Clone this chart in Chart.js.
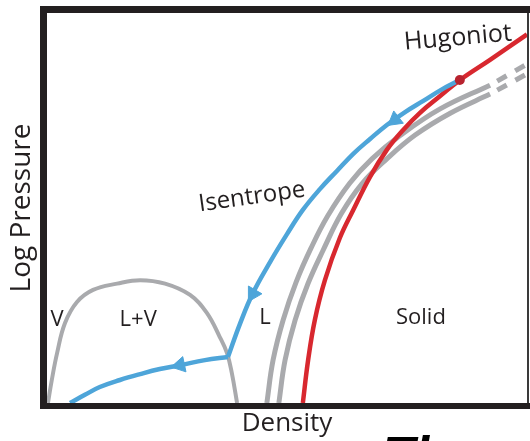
<!DOCTYPE html>
<html>
<head>
<meta charset="utf-8">
<script src="https://cdn.jsdelivr.net/npm/chart.js@4/dist/chart.umd.min.js"></script>
<style>
  html, body { margin: 0; padding: 0; background: #fff; }
</style>
</head>
<body>
<canvas id="phaseChart" width="530" height="441"></canvas>
<script>
// Curves. Density and log pressure both run 0..100 (arbitrary units).
const domeDensity  = [0.2, 1.0, 2.1, 3.75, 6.25, 9.6, 14.6, 19.4, 24.6, 29.8, 33.3, 36.0, 37.5, 38.5, 39.6];
const domePressure = [0, 5.9, 12.8, 20.5, 25.9, 29.0, 30.6, 31.5, 30.6, 27.7, 23.1, 16.9, 12.8, 7.7, 0];

const isentropeHighDensity  = [37.7, 40.2, 42.9, 46.5, 50.0, 53.3, 56.9, 60.4, 63.8, 67.3, 70.8, 74.6, 78.3, 82.1, 86.0];
const isentropeHighPressure = [11.8, 20.3, 28.2, 36.2, 43.3, 49.5, 54.9, 59.5, 63.9, 67.7, 71.3, 74.6, 77.4, 80.3, 82.8];

const isentropeLowDensity  = [4.8, 7.9, 11.0, 15.2, 19.4, 23.5, 27.7, 32.9, 37.7];
const isentropeLowPressure = [0, 2.1, 4.1, 5.9, 7.4, 8.7, 9.7, 11.0, 11.8];

const hugoniotDensity  = [53.3, 54.4, 55.8, 57.9, 61.0, 63.8, 67.3, 70.8, 74.2, 77.7, 81.9, 86.0, 92.3, 100];
const hugoniotPressure = [0, 11.0, 21.3, 31.5, 42.3, 49.5, 58.0, 64.9, 70.0, 74.4, 78.7, 82.8, 88.0, 94.5];

const meltADensity  = [45.8, 47.1, 49.2, 51.9, 55.0, 58.5, 63.1, 67.7, 73.5, 81.9, 92.3];
const meltAPressure = [0, 11.0, 21.3, 31.0, 39.7, 48.0, 56.4, 62.6, 68.5, 75.4, 81.5];

const meltBDensity  = [48.3, 49.6, 51.7, 54.4, 57.5, 61.3, 65.6, 70.8, 76.7, 84.0, 92.3];
const meltBPressure = [0, 11.0, 21.3, 30.7, 39.1, 48.5, 56.2, 62.6, 68.7, 74.3, 79.2];

// dashed continuation of the two grey curves
const meltAExtDensity  = [92.3, 100];
const meltAExtPressure = [81.5, 86.9];
const meltBExtDensity  = [92.3, 100];
const meltBExtPressure = [79.2, 84.4];

// shock state where the isentrope leaves the Hugoniot
const shockDensity  = [86.0];
const shockPressure = [82.8];

// arrow heads along the isentrope (angle = direction of travel, degrees clockwise from up)
const arrowDensity  = [72.5, 42.9, 27.7];
const arrowPressure = [72.6, 28.0, 9.7];
const arrowAngle    = [232, 210, 258];

const BLUE = '#4ea5d9';
const RED = '#d8282f';
const GREY = '#a9aaad';
const INK = '#231f20';

Chart.defaults.font.family = "'Open Sans', sans-serif";

const toPoints = (xs, ys) => xs.map((x, i) => ({ x: x, y: ys[i] }));

const regionLabels = [
    { text: 'V', x: 2.1, y: 21.3, size: 22 },
    { text: 'L+V', x: 19.0, y: 21.3, size: 22 },
    { text: 'L', x: 45.4, y: 21.8, size: 22 },
    { text: 'Solid', x: 77.9, y: 21.8, size: 22 },
    { text: 'Isentrope', x: 42.7, y: 52.8, size: 24, angle: -8 },
    { text: 'Hugoniot', x: 85.6, y: 93.6, size: 25, angle: -5 }
];

const labelPlugin = {
    id: 'regionLabels',
    afterDatasetsDraw(chart) {
        const { ctx, scales } = chart;
        ctx.save();
        ctx.fillStyle = INK;
        ctx.textAlign = 'center';
        ctx.textBaseline = 'middle';
        regionLabels.forEach(l => {
            ctx.save();
            ctx.translate(scales.x.getPixelForValue(l.x), scales.y.getPixelForValue(l.y));
            ctx.rotate((l.angle || 0) * Math.PI / 180);
            ctx.font = l.size + "px 'Open Sans'";
            ctx.fillText(l.text, 0, 0);
            ctx.restore();
        });
        ctx.restore();
    }
};

// heavy frame round the plot, thin on the right
const framePlugin = {
    id: 'frame',
    afterDraw(chart) {
        const { ctx, chartArea: a } = chart;
        ctx.save();
        ctx.fillStyle = INK;
        ctx.fillRect(a.left - 7, a.top - 7, 7, a.bottom - a.top + 13);
        ctx.fillRect(a.left - 7, a.top - 7, a.right - a.left + 10, 7);
        ctx.fillRect(a.left - 7, a.bottom, a.right - a.left + 10, 6);
        ctx.fillStyle = '#3a3a3a';
        ctx.fillRect(a.right, a.top, 2, a.bottom - a.top);
        // cut-off heading of whatever follows the figure
        ctx.fillStyle = '#000';
        ctx.font = "italic bold 52px 'Liberation Sans'";
        ctx.textAlign = 'left';
        ctx.textBaseline = 'alphabetic';
        ctx.fillText('Th', a.left + 336, a.bottom + 70);
        ctx.restore();
    }
};

const curve = (data, color, width, extra) => Object.assign({
    data: data,
    showLine: true,
    borderColor: color,
    borderWidth: width,
    pointRadius: 0,
    tension: 0.4,
    fill: false
}, extra || {});

new Chart(document.getElementById('phaseChart'), {
    type: 'scatter',
    data: {
        datasets: [
            {
                data: toPoints(arrowDensity, arrowPressure),
                showLine: false,
                pointStyle: 'triangle',
                pointRotation: arrowAngle,
                pointRadius: 9,
                backgroundColor: BLUE,
                borderColor: BLUE,
                borderWidth: 1
            },
            {
                data: toPoints(shockDensity, shockPressure),
                showLine: false,
                pointRadius: 5,
                backgroundColor: '#b8232f',
                borderWidth: 0
            },
            curve(toPoints(isentropeHighDensity, isentropeHighPressure), BLUE, 4.5),
            curve(toPoints(isentropeLowDensity, isentropeLowPressure), BLUE, 4.5),
            curve(toPoints(hugoniotDensity, hugoniotPressure), RED, 4.5),
            curve(toPoints(meltADensity, meltAPressure), GREY, 5),
            curve(toPoints(meltBDensity, meltBPressure), GREY, 5),
            curve(toPoints(meltAExtDensity, meltAExtPressure), GREY, 5, { borderDash: [11, 10], borderDashOffset: 13, borderCapStyle: 'butt' }),
            curve(toPoints(meltBExtDensity, meltBExtPressure), GREY, 5, { borderDash: [11, 10], borderDashOffset: 13, borderCapStyle: 'butt' }),
            curve(toPoints(domeDensity, domePressure), GREY, 4)
        ]
    },
    options: {
        responsive: false,
        animation: false,
        layout: { autoPadding: false, padding: { top: 13, right: 3 } },
        plugins: { legend: { display: false }, tooltip: { enabled: false } },
        scales: {
            x: {
                type: 'linear', min: 0, max: 100,
                grid: { display: false }, ticks: { display: false }, border: { display: false },
                title: { display: true, text: 'Density', color: INK, font: { size: 26 }, padding: { top: 0, bottom: 2 } },
                afterFit: s => { s.height = 38; }
            },
            y: {
                type: 'linear', min: 0, max: 100,
                grid: { display: false }, ticks: { display: false }, border: { display: false },
                title: { display: true, text: 'Log Pressure', color: INK, font: { size: 28 }, padding: { top: 5, bottom: 0 } },
                afterFit: s => { s.width = 47; }
            }
        }
    },
    plugins: [labelPlugin, framePlugin]
});
</script>
</body>
</html>
